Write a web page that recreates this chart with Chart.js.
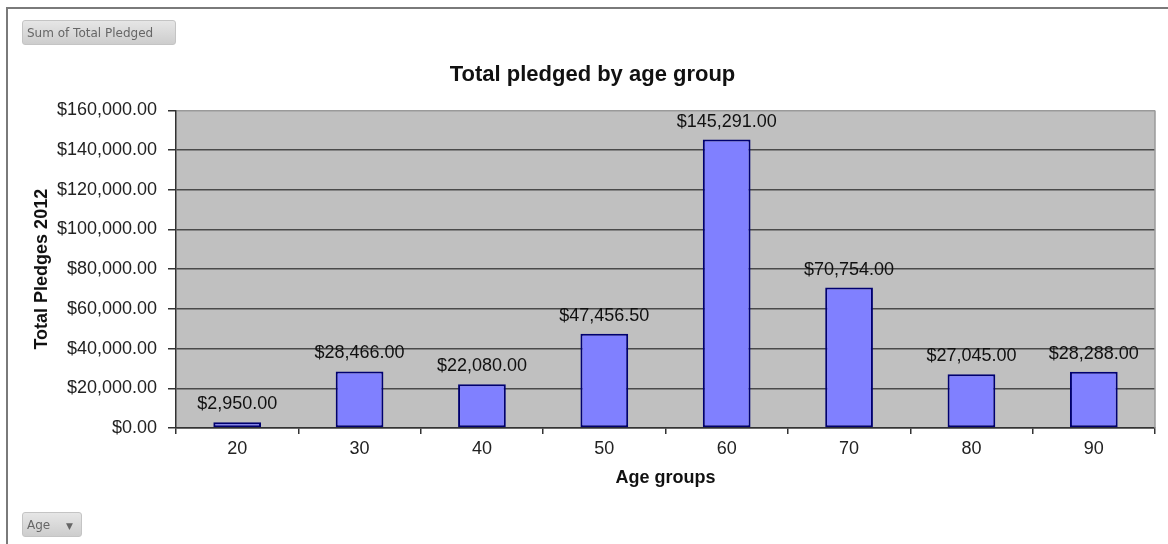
<!DOCTYPE html>
<html>
<head>
<meta charset="utf-8">
<script src="https://cdn.jsdelivr.net/npm/chart.js@4.4.0/dist/chart.umd.min.js"></script>
<style>
body { margin: 0; background: #fff; }
#wrap { position: relative; width: 1168px; height: 544px; overflow: hidden; }
#frame { position: absolute; left: 6px; top: 7px; right: -4px; bottom: -4px; border-left: 2px solid #7a7a7a; border-top: 2px solid #7a7a7a; }
canvas { position: absolute; left: 0; top: 0; }
.btn { position: absolute; height: 25px; line-height: 24px; font-family: "DejaVu Sans", sans-serif; font-size: 12px; color: #666;
  background: linear-gradient(#e6e6e6, #cdcdcd); border: 1px solid #c4c4c4; border-radius: 3px; box-sizing: border-box; padding: 0 4px; }
</style>
</head>
<body>
<div id="wrap">
  <div id="frame"></div>
  <canvas id="pledgeChart" width="1168" height="544"></canvas>
  <div class="btn" style="left:22px; top:20px; width:154px;">Sum of Total Pledged</div>
  <div class="btn" style="left:22px; top:512px; width:60px;">Age <span style="font-size:9px; margin-left:12px;">&#9660;</span></div>
</div>
<script>
//data
const ageGroups = ['20', '30', '40', '50', '60', '70', '80', '90'];
const totalPledged = [2950, 28466, 22080, 47456.5, 145291, 70754, 27045, 28288];

const FONT = '"Liberation Sans", Arial, sans-serif';

function money(v) {
  return '$' + v.toLocaleString('en-US', { minimumFractionDigits: 2, maximumFractionDigits: 2 });
}

//grey plot area + right border
const plotBg = {
  id: 'plotBg',
  beforeDraw(chart) {
    const a = chart.chartArea, ctx = chart.ctx;
    ctx.save();
    ctx.fillStyle = '#c0c0c0';
    ctx.fillRect(a.left, a.top, a.right - a.left, a.bottom - a.top);
    ctx.restore();
  },
  afterDraw(chart) {
    const a = chart.chartArea, ctx = chart.ctx;
    ctx.save();
    ctx.strokeStyle = '#9a9a9a';
    ctx.lineWidth = 1.5;
    ctx.beginPath();
    ctx.moveTo(a.right, a.top);
    ctx.lineTo(a.right, a.bottom);
    ctx.stroke();
    ctx.restore();
  }
};

//value labels over the bars
const barLabels = {
  id: 'barLabels',
  afterDatasetsDraw(chart) {
    const ctx = chart.ctx;
    const meta = chart.getDatasetMeta(0);
    ctx.save();
    ctx.font = '18px ' + FONT;
    ctx.fillStyle = '#111';
    ctx.textAlign = 'center';
    ctx.textBaseline = 'bottom';
    meta.data.forEach(function(bar, i) {
      ctx.fillText(money(totalPledged[i]), bar.x, bar.y - 9);
    });
    ctx.restore();
  }
};

new Chart(document.getElementById('pledgeChart'), {
  type: 'bar',
  data: {
    labels: ageGroups,
    datasets: [{
      label: 'Total',
      data: totalPledged,
      backgroundColor: '#8080ff',
      borderColor: '#000070',
      borderWidth: 2,
      borderSkipped: false,
      categoryPercentage: 1,
      barPercentage: 0.39
    }]
  },
  options: {
    responsive: false,
    animation: false,
    layout: { padding: { left: 30, right: 13, top: 0, bottom: 0 } },
    plugins: {
      legend: { display: false },
      tooltip: { enabled: false },
      title: {
        display: true,
        text: 'Total pledged by age group',
        color: '#111',
        font: { family: FONT, size: 22, weight: 'bold' },
        padding: { top: 62, bottom: 22 }
      }
    },
    scales: {
      x: {
        afterFit: function(s) { s.height = 116; },
        grid: { offset: true, drawOnChartArea: false, drawTicks: true, tickLength: 6, color: '#333', lineWidth: 1.5 },
        border: { color: '#333', width: 1.5 },
        ticks: { color: '#222', font: { family: FONT, size: 18 }, padding: 4 },
        title: {
          display: true,
          text: 'Age groups',
          color: '#111',
          font: { family: FONT, size: 18, weight: 'bold' },
          padding: { top: 0, bottom: 55 }
        }
      },
      y: {
        min: 0,
        max: 160000,
        afterFit: function(s) { s.width = 146; },
        grid: {
          color: function(c) { return c.tick && c.tick.value === 160000 ? '#9a9a9a' : '#4a4a4a'; },
          tickColor: '#333',
          tickLength: 8,
          lineWidth: 1.5
        },
        border: { color: '#333', width: 1.5 },
        ticks: {
          stepSize: 20000,
          color: '#222',
          padding: 11,
          font: { family: FONT, size: 18 },
          callback: function(v) { return money(v); }
        },
        title: {
          display: true,
          text: 'Total Pledges 2012',
          color: '#111',
          font: { family: FONT, size: 18, weight: 'bold' },
          padding: { top: 1, bottom: 0 }
        }
      }
    }
  },
  plugins: [plotBg, barLabels]
});
</script>
</body>
</html>
